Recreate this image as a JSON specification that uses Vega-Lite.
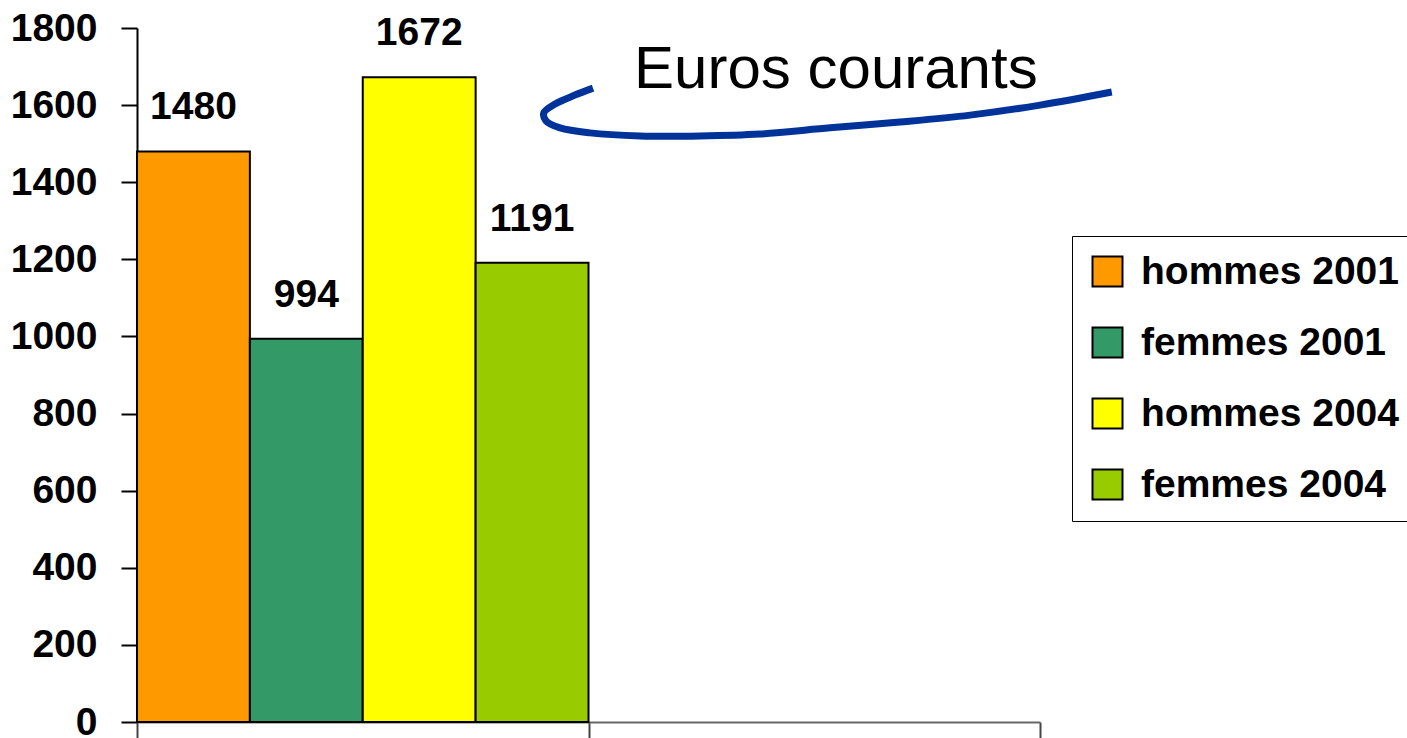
{
  "$schema": "https://vega.github.io/schema/vega-lite/v6.json",
  "width": 903,
  "height": 694,
  "autosize": {"type": "none"},
  "padding": {"left": 137, "top": 28, "right": 367, "bottom": 16},
  "background": "white",
  "config": {"view": {"stroke": null}, "font": "Liberation Sans"},
  "datasets": {
    "bars": [
      {"categorie": "A", "serie": "hommes 2001", "salaire": 1480},
      {"categorie": "A", "serie": "femmes 2001", "salaire": 994},
      {"categorie": "A", "serie": "hommes 2004", "salaire": 1672},
      {"categorie": "A", "serie": "femmes 2004", "salaire": 1191}
    ],
    "swoosh": [
      {"ordre": 1, "u": 1.010, "v": 1644},
      {"ordre": 2, "u": 0.970, "v": 1626},
      {"ordre": 3, "u": 0.926, "v": 1603},
      {"ordre": 4, "u": 0.901, "v": 1580},
      {"ordre": 5, "u": 0.906, "v": 1559},
      {"ordre": 6, "u": 0.937, "v": 1541},
      {"ordre": 7, "u": 1.003, "v": 1528},
      {"ordre": 8, "u": 1.114, "v": 1520},
      {"ordre": 9, "u": 1.247, "v": 1520},
      {"ordre": 10, "u": 1.380, "v": 1525},
      {"ordre": 11, "u": 1.535, "v": 1541},
      {"ordre": 12, "u": 1.690, "v": 1556},
      {"ordre": 13, "u": 1.845, "v": 1574},
      {"ordre": 14, "u": 2.000, "v": 1600},
      {"ordre": 15, "u": 2.159, "v": 1634}
    ],
    "note": [
      {"texte": "Euros courants", "u": 1.101, "v": 1644}
    ]
  },
  "layer": [
    {
      "data": {"name": "bars"},
      "mark": {"type": "bar", "stroke": "black", "strokeWidth": 2},
      "encoding": {
        "x": {
          "field": "categorie", "type": "nominal",
          "scale": {"domain": ["A", "B"], "paddingInner": 0, "paddingOuter": 0},
          "axis": {
            "title": null, "labels": false, "tickBand": "extent", "tickSize": 16,
            "tickColor": "#444444", "tickWidth": 2, "domainColor": "#666666", "domainWidth": 2
          }
        },
        "xOffset": {
          "field": "serie", "type": "nominal",
          "sort": ["hommes 2001", "femmes 2001", "hommes 2004", "femmes 2004"],
          "scale": {"paddingInner": 0, "paddingOuter": 0}
        },
        "y": {
          "field": "salaire", "type": "quantitative",
          "scale": {"domain": [0, 1800], "nice": false},
          "axis": {
            "title": null, "grid": false, "format": "d",
            "values": [0, 200, 400, 600, 800, 1000, 1200, 1400, 1600, 1800],
            "labelFont": "Liberation Sans", "labelFontSize": 39, "labelFontWeight": "bold",
            "labelColor": "black", "labelPadding": 24, "tickSize": 16, "tickColor": "black",
            "tickWidth": 2, "domainColor": "black", "domainWidth": 2
          }
        },
        "color": {
          "field": "serie", "type": "nominal",
          "sort": ["hommes 2001", "femmes 2001", "hommes 2004", "femmes 2004"],
          "scale": {
            "domain": ["hommes 2001", "femmes 2001", "hommes 2004", "femmes 2004"],
            "range": ["#FF9900", "#339966", "#FFFF00", "#99CC00"]
          },
          "legend": {
            "title": null, "orient": "none", "legendX": 935, "legendY": 208,
            "padding": 16, "strokeColor": "black", "fillColor": "white",
            "labelFont": "Liberation Sans", "labelFontSize": 39, "labelFontWeight": "bold",
            "labelColor": "black", "labelLimit": 400, "labelOffset": 14,
            "symbolType": "square", "symbolSize": 900, "symbolStrokeColor": "black",
            "symbolStrokeWidth": 2, "symbolOpacity": 1, "rowPadding": 31
          }
        }
      }
    },
    {
      "data": {"name": "bars"},
      "mark": {
        "type": "text", "baseline": "alphabetic", "dy": -32,
        "font": "Liberation Sans", "fontSize": 39, "fontWeight": "bold", "color": "black"
      },
      "encoding": {
        "x": {"field": "categorie", "type": "nominal", "scale": {"domain": ["A", "B"], "paddingInner": 0, "paddingOuter": 0}, "axis": null},
        "xOffset": {
          "field": "serie", "type": "nominal",
          "sort": ["hommes 2001", "femmes 2001", "hommes 2004", "femmes 2004"],
          "scale": {"paddingInner": 0, "paddingOuter": 0}
        },
        "y": {"field": "salaire", "type": "quantitative"},
        "text": {"field": "salaire", "type": "quantitative", "format": "d"}
      }
    },
    {
      "data": {"name": "swoosh"},
      "mark": {"type": "line", "color": "#003399", "strokeWidth": 7, "interpolate": "catmull-rom", "strokeCap": "butt"},
      "encoding": {
        "x": {"field": "u", "type": "quantitative", "scale": {"domain": [0, 2], "nice": false, "zero": false}, "axis": null},
        "y": {"field": "v", "type": "quantitative"},
        "order": {"field": "ordre", "type": "quantitative"}
      }
    },
    {
      "data": {"name": "note"},
      "mark": {
        "type": "text", "align": "left", "baseline": "alphabetic",
        "font": "Liberation Sans", "fontSize": 60, "fontWeight": "normal", "color": "black"
      },
      "encoding": {
        "x": {"field": "u", "type": "quantitative", "scale": {"domain": [0, 2], "nice": false, "zero": false}, "axis": null},
        "y": {"field": "v", "type": "quantitative"},
        "text": {"field": "texte", "type": "nominal"}
      }
    }
  ],
  "resolve": {"scale": {"x": "independent"}, "axis": {"x": "independent"}}
}
